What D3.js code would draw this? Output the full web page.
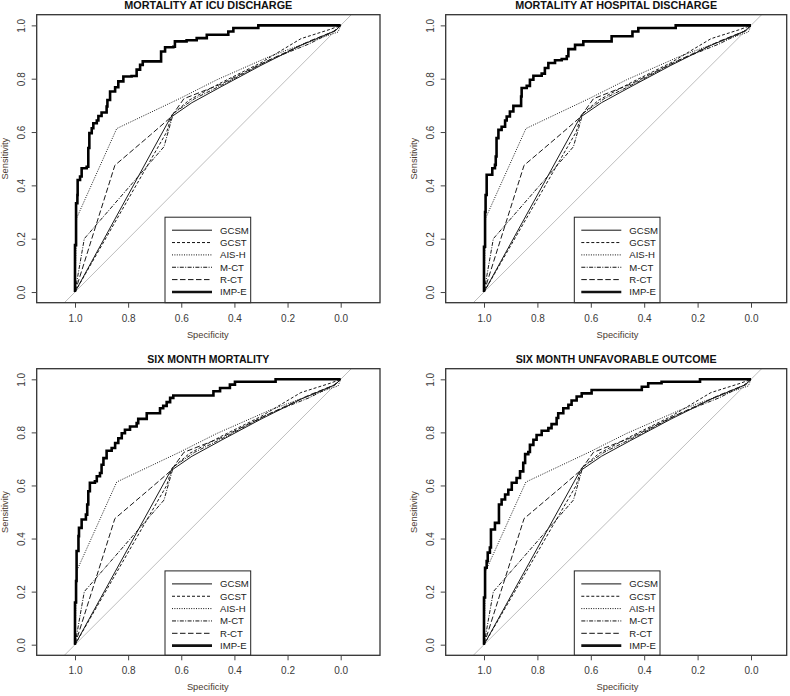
<!DOCTYPE html>
<html>
<head>
<meta charset="utf-8">
<script src="https://cdn.jsdelivr.net/npm/d3@7"></script>
<style>
  html, body { margin: 0; padding: 0; background: #fff; }
  svg { display: block; }
  text { font-family: "Liberation Sans", Arial, sans-serif; }
</style>
</head>
<body>
<script>
// ---------------- DATA ----------------
const panelTitles = ["MORTALITY AT ICU DISCHARGE", "MORTALITY AT HOSPITAL DISCHARGE",
                     "SIX MONTH MORTALITY", "SIX MONTH UNFAVORABLE OUTCOME"];
const seriesNames = ["GCSM", "GCST", "AIS-H", "M-CT", "R-CT", "IMP-E"];
const specTicks = [1.0, 0.8, 0.6, 0.4, 0.2, 0.0];
const sensTicks = [0.0, 0.2, 0.4, 0.6, 0.8, 1.0];

// [specificity, sensitivity]
const gcsm = [[1,0],[0.64,0.655],[0.56,0.71],[0.45,0.77],[0.3,0.85],[0.15,0.925],[0.02,0.98],[0,1]];
const gcst = [[1,0],[0.655,0.60],[0.635,0.665],[0.57,0.72],[0.45,0.785],[0.3,0.86],[0.15,0.95],[0.04,0.985],[0,1]];
const aish = [[1,0],[0.994,0.277],[0.843,0.613],[0.603,0.727],[0.466,0.796],[0.266,0.884],[0.1,0.945],[0.01,0.975],[0,1]];
const mct  = [[1,0],[0.965,0.2],[0.665,0.545],[0.63,0.67],[0.55,0.725],[0.42,0.79],[0.27,0.87],[0.12,0.93],[0.03,0.975],[0,1]];
const rct  = [[1,0],[0.85,0.475],[0.715,0.59],[0.64,0.655],[0.59,0.725],[0.45,0.78],[0.3,0.855],[0.12,0.94],[0.02,0.98],[0,1]];

const impICU = [[1,0],[1,0.176],[0.996,0.333],[0.991,0.364],[0.99,0.42],[0.981,0.433],[0.975,0.464],[0.956,0.47],[0.95,0.54],[0.946,0.596],[0.937,0.614],[0.931,0.633],[0.918,0.643],[0.912,0.66],[0.9,0.673],[0.881,0.696],[0.878,0.72],[0.868,0.752],[0.849,0.768],[0.837,0.79],[0.818,0.808],[0.787,0.81],[0.768,0.834],[0.755,0.852],[0.745,0.865],[0.676,0.902],[0.661,0.918],[0.63,0.92],[0.624,0.94],[0.58,0.944],[0.542,0.952],[0.504,0.965],[0.423,0.977],[0.404,0.99],[0.31,1],[0,1]];
const impHosp = [[1,0],[1,0.17],[0.996,0.3],[0.994,0.364],[0.99,0.44],[0.969,0.464],[0.959,0.477],[0.956,0.508],[0.953,0.577],[0.946,0.608],[0.934,0.62],[0.921,0.643],[0.915,0.658],[0.903,0.677],[0.89,0.698],[0.861,0.733],[0.859,0.765],[0.84,0.773],[0.828,0.796],[0.815,0.811],[0.784,0.819],[0.772,0.84],[0.759,0.859],[0.734,0.869],[0.709,0.874],[0.69,0.884],[0.684,0.911],[0.659,0.927],[0.628,0.94],[0.522,0.959],[0.444,0.977],[0.422,0.99],[0.282,1],[0,1]];
const impSixMort = [[1,0],[1,0.159],[0.996,0.24],[0.994,0.353],[0.987,0.409],[0.985,0.44],[0.975,0.472],[0.959,0.49],[0.954,0.528],[0.95,0.578],[0.944,0.61],[0.925,0.616],[0.918,0.635],[0.906,0.647],[0.9,0.678],[0.893,0.703],[0.881,0.731],[0.862,0.741],[0.849,0.76],[0.837,0.778],[0.824,0.797],[0.812,0.81],[0.793,0.822],[0.768,0.835],[0.762,0.851],[0.73,0.872],[0.68,0.891],[0.668,0.9],[0.655,0.914],[0.642,0.93],[0.63,0.939],[0.479,0.955],[0.454,0.967],[0.417,0.98],[0.398,0.991],[0.245,1],[0,1]];
const impSixUnfav = [[1,0],[1,0.178],[0.996,0.29],[0.99,0.315],[0.986,0.347],[0.978,0.366],[0.974,0.434],[0.959,0.459],[0.944,0.528],[0.934,0.547],[0.921,0.566],[0.909,0.584],[0.896,0.61],[0.878,0.628],[0.865,0.653],[0.853,0.685],[0.846,0.718],[0.834,0.726],[0.828,0.753],[0.815,0.772],[0.803,0.79],[0.784,0.806],[0.759,0.816],[0.747,0.831],[0.728,0.854],[0.722,0.872],[0.703,0.891],[0.684,0.904],[0.672,0.92],[0.653,0.935],[0.634,0.947],[0.597,0.96],[0.409,0.972],[0.385,0.985],[0.335,0.991],[0.191,1],[0,1]];

const impByPanel = [impICU, impHosp, impSixMort, impSixUnfav];
const otherSeries = [gcsm, gcst, aish, mct, rct];

// ---------------- STYLES / LAYOUT ----------------
const styles = [
  { w: 1.0, dash: null },            // GCSM
  { w: 1.0, dash: "3,2" },           // GCST
  { w: 1.0, dash: "1,1.4" },         // AIS-H
  { w: 1.0, dash: "4,1.4,1,1.4" },   // M-CT
  { w: 1.0, dash: "5.5,2.5" },       // R-CT
  { w: 2.6, dash: null }             // IMP-E
];
const panels = [
  { box: [36.7, 14.7, 380, 302.7], x1: 75,  x0: 340.7 },
  { box: [445.7, 14.7, 786.7, 302.7], x1: 484, x0: 751 },
  { box: [36.7, 368.7, 380, 655.3], x1: 75,  x0: 340.7 },
  { box: [445.7, 368.7, 786.7, 655.3], x1: 484, x0: 751 }
];
const titleWidths = [168, 202, 122, 201];

const W = 790, H = 696;
const svg = d3.select("body").append("svg").attr("width", W).attr("height", H);

panels.forEach((p, i) => {
  const [L, T, R, B] = p.box;
  const x = d3.scaleLinear().domain([1, 0]).range([p.x1, p.x0]);
  const y = d3.scaleLinear().domain([-0.04, 1.04]).range([B, T]);
  const g = svg.append("g");

  const clipId = "clip" + i;
  g.append("clipPath").attr("id", clipId)
    .append("rect").attr("x", L).attr("y", T).attr("width", R - L).attr("height", B - T);

  const plot = g.append("g").attr("clip-path", `url(#${clipId})`);

  // diagonal reference line
  const dLo = x.invert(L), dHi = x.invert(R);
  plot.append("line")
    .attr("x1", x(dLo)).attr("y1", y(1 - dLo))
    .attr("x2", x(dHi)).attr("y2", y(1 - dHi))
    .attr("stroke", "#bdbdbd").attr("stroke-width", 1);

  const line = d3.line().x(d => x(d[0])).y(d => y(d[1]));
  const stepLine = d3.line().x(d => x(d[0])).y(d => y(d[1])).curve(d3.curveStepAfter);

  otherSeries.forEach((s, k) => {
    plot.append("path").attr("d", line(s))
      .attr("fill", "none").attr("stroke", "#1a1a1a")
      .attr("stroke-width", styles[k].w)
      .attr("stroke-dasharray", styles[k].dash);
  });
  plot.append("path").attr("d", stepLine(impByPanel[i]))
    .attr("fill", "none").attr("stroke", "#000")
    .attr("stroke-width", styles[5].w).attr("stroke-linejoin", "miter");

  // legend
  const legL = L + (i % 2 === 0 ? 128.3 : 128.6);
  const legW = 85.7;
  const legT = i < 2 ? 217.2 : 570.9;
  const rowH = 12.35;
  g.append("rect").attr("x", legL).attr("y", legT).attr("width", legW).attr("height", B - legT)
    .attr("fill", "#fff").attr("stroke", "#222").attr("stroke-width", 1);
  seriesNames.forEach((name, k) => {
    const yy = legT + 13 + k * rowH;
    g.append("line").attr("x1", legL + 7).attr("x2", legL + 47)
      .attr("y1", yy).attr("y2", yy)
      .attr("stroke", "#111").attr("stroke-width", styles[k].w)
      .attr("stroke-dasharray", styles[k].dash);
    g.append("text").attr("x", legL + 55).attr("y", yy + 3.5)
      .attr("font-size", 9.6).attr("fill", "#222").text(name);
  });

  // box
  g.append("rect").attr("x", L).attr("y", T).attr("width", R - L).attr("height", B - T)
    .attr("fill", "none").attr("stroke", "#333").attr("stroke-width", 1.3);

  // x axis
  const xAxis = d3.axisBottom(x).tickValues(specTicks).tickFormat(d3.format(".1f"))
    .tickSizeOuter(0).tickSize(5).tickPadding(7);
  const xa = g.append("g").attr("transform", `translate(0,${B})`).call(xAxis);
  xa.select(".domain").remove();
  xa.selectAll("line").attr("stroke", "#444");
  xa.selectAll("text").attr("font-size", 10).attr("fill", "#3a3a3a")
    .attr("font-family", "Liberation Sans, Arial, sans-serif");

  // y axis
  const yAxis = d3.axisLeft(y).tickValues(sensTicks).tickFormat(d3.format(".1f"))
    .tickSizeOuter(0).tickSize(5).tickPadding(0);
  const ya = g.append("g").attr("transform", `translate(${L},0)`).call(yAxis);
  ya.select(".domain").remove();
  ya.selectAll("line").attr("stroke", "#444");
  ya.selectAll("text")
    .attr("font-size", 10).attr("fill", "#3a3a3a")
    .attr("font-family", "Liberation Sans, Arial, sans-serif")
    .attr("text-anchor", "middle").attr("dy", null).attr("x", null)
    .attr("transform", "translate(-11.5,0) rotate(-90)");

  // axis titles
  g.append("text").attr("x", (p.x1 + p.x0) / 2).attr("y", B + 35)
    .attr("text-anchor", "middle").attr("font-size", 9.3).attr("fill", "#4a3a30")
    .text("Specificity");
  g.append("text")
    .attr("transform", `translate(${L - 28.5},${(y(0) + y(1)) / 2}) rotate(-90)`)
    .attr("text-anchor", "middle").attr("font-size", 9.3).attr("fill", "#4a3a30")
    .text("Sensitivity");

  // title
  g.append("text").attr("x", (L + R) / 2).attr("y", T - 5.5)
    .attr("text-anchor", "middle").attr("font-size", 10.5).attr("font-weight", "bold")
    .attr("fill", "#111")
    .attr("textLength", titleWidths[i]).attr("lengthAdjust", "spacingAndGlyphs")
    .text(panelTitles[i]);
});
</script>
</body>
</html>
